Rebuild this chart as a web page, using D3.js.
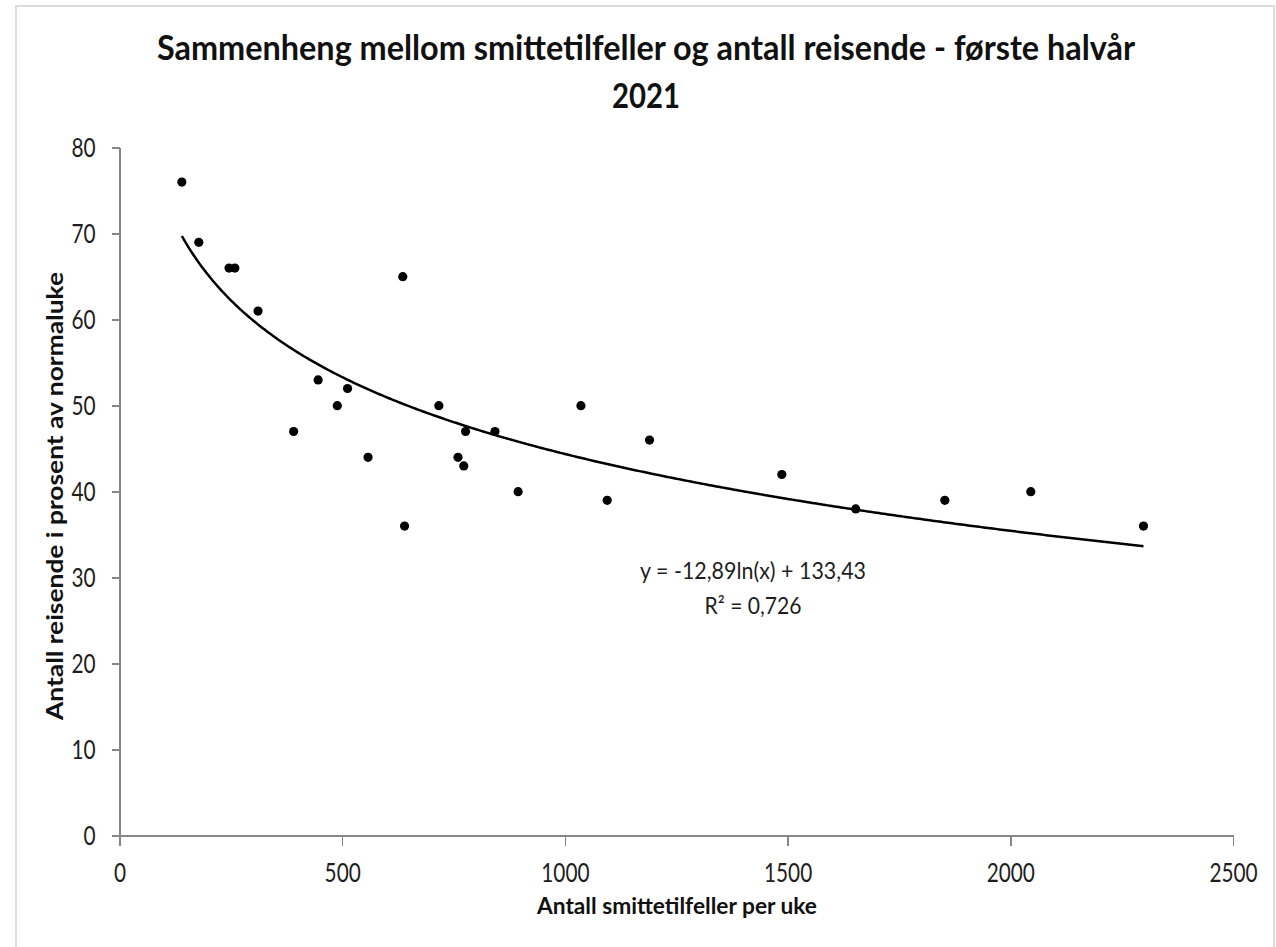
<!DOCTYPE html>
<html lang="no">
	<head>
		<meta charset="utf-8">
		<title>Sammenheng mellom smittetilfeller og antall reisende</title>
		<script type="text/javascript" src="https://cdn.jsdelivr.net/npm/d3@7"></script>
		<style type="text/css">

			* {
				margin: 0;
				padding: 0;
			}

			body {
				background-color: white;
				font-family: Lato, "Open Sans", sans-serif;
			}

			svg {
				display: block;
			}

			.axis path,
			.axis line {
				stroke: #868686;
				stroke-width: 1.5px;
				shape-rendering: crispEdges;
			}

			.axis text {
				font-family: Lato, sans-serif;
				font-size: 26px;
				fill: #1e1e1e;
			}

			.title {
				font-weight: bold;
				font-size: 35px;
				fill: #111;
			}

			.axisTitle {
				font-weight: bold;
				font-size: 23px;
				fill: #111;
			}

			.trendText {
				font-size: 23px;
				fill: #1e1e1e;
			}

		</style>
	</head>
	<body>

		<div id="chart"></div>

		<script type="text/javascript">

			//Data: weekly cases and travellers (% of a normal week)
			var cases = [140, 178, 246, 259, 311, 391, 446, 489, 512, 558, 636, 640, 717, 760,
				773, 777, 843, 895, 1036, 1095, 1190, 1487, 1653, 1853, 2046, 2299];
			var travellers = [76, 69, 66, 66, 61, 47, 53, 50, 52, 44, 65, 36, 50, 44,
				43, 47, 47, 40, 50, 39, 46, 42, 38, 39, 40, 36];

			var xTicks = [0, 500, 1000, 1500, 2000, 2500];
			var yTicks = [0, 10, 20, 30, 40, 50, 60, 70, 80];

			//Trendline from the chart: y = a*ln(x) + b
			var trendA = -12.89;
			var trendB = 133.43;
			var trendLabel = "y = -12,89ln(x) + 133,43";
			var r2Label = "R² = 0,726";

			var titleLines = ["Sammenheng mellom smittetilfeller og antall reisende - første halvår", "2021"];
			var xTitle = "Antall smittetilfeller per uke";
			var yTitle = "Antall reisende i prosent av normaluke";

			//Width and height
			var w = 1276;
			var h = 947;

			var svg = d3.select("#chart")
				.append("svg")
				.attr("width", w)
				.attr("height", h);

			//light frame around the chart area
			svg.append("rect")
				.attr("x", 16)
				.attr("y", 6)
				.attr("width", 1258)
				.attr("height", 960)
				.attr("fill", "white")
				.attr("stroke", "#dcdcdc")
				.attr("stroke-width", 2);

			var xScale = d3.scaleLinear()
				.domain([0, 2500])
				.range([119.5, 1233]);

			var yScale = d3.scaleLinear()
				.domain([0, 80])
				.range([835.7, 147.7]);

			//x axis
			var xAxis = d3.axisBottom(xScale)
				.tickValues(xTicks)
				.tickFormat(d3.format("d"))
				.tickSizeInner(10)
				.tickSizeOuter(0)
				.tickPadding(18);

			var gx = svg.append("g")
				.attr("class", "axis")
				.attr("transform", "translate(0," + yScale(0) + ")")
				.call(xAxis);

			gx.selectAll("text")
				.attr("transform", "scale(0.8,1)");

			//y axis
			var yAxis = d3.axisLeft(yScale)
				.tickValues(yTicks)
				.tickFormat(d3.format("d"))
				.tickSizeInner(8)
				.tickSizeOuter(0)
				.tickPadding(16);

			var gy = svg.append("g")
				.attr("class", "axis")
				.attr("transform", "translate(" + xScale(0) + ",0)")
				.call(yAxis);

			gy.selectAll("text")
				.attr("x", -24 / 0.8)
				.attr("transform", "scale(0.8,1)");

			//trendline over the range of the data
			var ext = d3.extent(cases);
			var trendData = d3.range(ext[0], ext[1], 5).concat([ext[1]]);

			var line = d3.line()
				.x(function(d) { return xScale(d); })
				.y(function(d) { return yScale(trendA * Math.log(d) + trendB); });

			svg.append("path")
				.datum(trendData)
				.attr("d", line)
				.attr("fill", "none")
				.attr("stroke", "black")
				.attr("stroke-width", 2.5);

			//points
			svg.append("g")
				.selectAll("circle")
				.data(cases)
				.enter()
				.append("circle")
				.attr("cx", function(d) { return xScale(d); })
				.attr("cy", function(d, i) { return yScale(travellers[i]); })
				.attr("r", 4.6)
				.attr("fill", "black");

			//trendline label
			svg.append("text")
				.attr("class", "trendText")
				.attr("x", 753)
				.attr("y", 579)
				.attr("text-anchor", "middle")
				.attr("textLength", 226)
				.attr("lengthAdjust", "spacingAndGlyphs")
				.text(trendLabel);

			svg.append("text")
				.attr("class", "trendText")
				.attr("x", 753)
				.attr("y", 614)
				.attr("text-anchor", "middle")
				.attr("textLength", 97)
				.attr("lengthAdjust", "spacingAndGlyphs")
				.text(r2Label);

			//title
			svg.append("text")
				.attr("class", "title")
				.attr("x", 646)
				.attr("y", 60)
				.attr("text-anchor", "middle")
				.attr("textLength", 978)
				.attr("lengthAdjust", "spacingAndGlyphs")
				.text(titleLines[0]);

			svg.append("text")
				.attr("class", "title")
				.attr("x", 646)
				.attr("y", 108)
				.attr("text-anchor", "middle")
				.attr("textLength", 68)
				.attr("lengthAdjust", "spacingAndGlyphs")
				.text(titleLines[1]);

			//axis titles
			svg.append("text")
				.attr("class", "axisTitle")
				.attr("x", 677)
				.attr("y", 914)
				.attr("text-anchor", "middle")
				.attr("textLength", 280)
				.attr("lengthAdjust", "spacingAndGlyphs")
				.text(xTitle);

			svg.append("text")
				.attr("class", "axisTitle")
				.attr("transform", "translate(63,496) rotate(-90)")
				.attr("text-anchor", "middle")
				.attr("textLength", 448)
				.attr("lengthAdjust", "spacingAndGlyphs")
				.text(yTitle);

		</script>
	</body>
</html>
